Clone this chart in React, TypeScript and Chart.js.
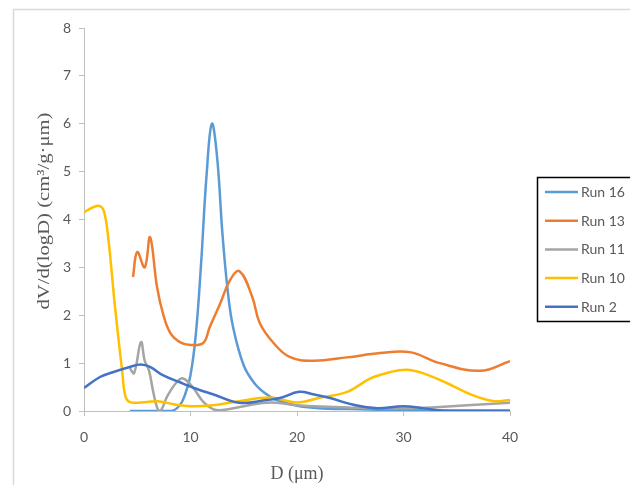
import React, { useEffect, useRef } from "react";
import { Chart, registerables } from "chart.js";

Chart.register(...registerables);

const seriesLabels = ["Run 16", "Run 13", "Run 11", "Run 10", "Run 2"];
const seriesColors = ["#5B9BD5", "#ED7D31", "#A5A5A5", "#FFC000", "#4472C4"];

const run16D = [4.3, 6, 8.2, 9, 9.5, 10, 10.5, 11, 11.5, 12, 12.5, 13, 13.5, 14, 15, 16, 17, 18, 20, 22, 25, 30, 35, 40];
const run16V = [0, 0, 0, 0.12, 0.35, 0.75, 1.6, 3.1, 4.9, 6.0, 5.3, 3.7, 2.5, 1.75, 0.95, 0.58, 0.37, 0.24, 0.11, 0.06, 0.04, 0.02, 0.01, 0.01];

const run13D = [4.6, 5.0, 5.7, 6.2, 6.85, 7.4, 8.1, 9.0, 10.0, 11.2, 11.8, 12.8, 13.7, 14.6, 15.8, 16.5, 17.8, 19.3, 21.5, 24.7, 27.8, 30.6, 33.4, 37.2, 40];
const run13V = [2.8, 3.32, 3.0, 3.63, 2.6, 2.05, 1.63, 1.44, 1.38, 1.42, 1.75, 2.25, 2.73, 2.92, 2.38, 1.84, 1.42, 1.13, 1.05, 1.12, 1.21, 1.23, 1.0, 0.84, 1.04];

const run11D = [4.3, 4.7, 5.35, 5.7, 6.1, 6.5, 6.9, 7.2, 7.8, 8.7, 9.3, 10.2, 11.2, 12.1, 13, 15, 17.5, 20, 25, 30, 33, 36, 40];
const run11V = [0.9, 0.79, 1.44, 1.05, 0.85, 0.4, 0.05, 0.0, 0.3, 0.6, 0.68, 0.5, 0.19, 0.04, 0.02, 0.1, 0.18, 0.12, 0.07, 0.05, 0.08, 0.12, 0.17];

const run10D = [0, 0.8, 1.5, 1.9, 2.3, 2.9, 3.6, 3.9, 4.4, 5.9, 7.1, 8.4, 10, 12.1, 14.4, 17.5, 20, 22.2, 24.7, 26.9, 28.7, 30.3, 31.8, 34.1, 36.5, 38.4, 40];
const run10V = [4.15, 4.25, 4.28, 4.15, 3.57, 2.2, 0.8, 0.3, 0.18, 0.19, 0.2, 0.14, 0.1, 0.12, 0.2, 0.28, 0.18, 0.28, 0.4, 0.68, 0.81, 0.86, 0.79, 0.58, 0.33, 0.21, 0.23];

const run2D = [0, 1.5, 2.7, 4.3, 5.3, 6.2, 7.4, 9, 10.6, 12.1, 14.6, 17.2, 18.4, 20.2, 21.5, 23.1, 25.3, 27.5, 30, 31.8, 34, 37, 40];
const run2V = [0.48, 0.71, 0.81, 0.92, 0.97, 0.92, 0.75, 0.6, 0.46, 0.35, 0.17, 0.23, 0.27, 0.4, 0.35, 0.27, 0.13, 0.06, 0.1, 0.06, 0.0, 0, 0];

const seriesD = [run16D, run13D, run11D, run10D, run2D];
const seriesV = [run16V, run13V, run11V, run10V, run2V];

const xTitle = "D (μm)";
const yTitle = "dV/d(logD) (cm³/g·μm)";

const framePlugin = {
  id: "frame",
  beforeDraw(chart: any) {
    const ctx = chart.ctx;
    ctx.save();
    ctx.fillStyle = "#ffffff";
    ctx.fillRect(0, 0, chart.width, chart.height);
    ctx.strokeStyle = "#D9D9D9";
    ctx.lineWidth = 1.5;
    ctx.strokeRect(13.5, 9.5, chart.width + 20, chart.height + 20);
    ctx.restore();
  },
};

const yTitlePlugin = {
  id: "yTitleDraw",
  afterDraw(chart: any) {
    const ctx = chart.ctx;
    ctx.save();
    ctx.font = "17px 'Liberation Serif'";
    ctx.fillStyle = "#595959";
    ctx.textAlign = "center";
    ctx.textBaseline = "middle";
    const w = ctx.measureText(yTitle).width;
    const target = 197;
    ctx.translate(45, 211);
    ctx.rotate(-Math.PI / 2);
    ctx.scale(target / w, 1);
    ctx.fillText(yTitle, 0, 0);
    ctx.restore();
  },
};

const legendPlugin = {
  id: "boxLegend",
  afterDraw(chart: any) {
    const ctx = chart.ctx;
    const ds = chart.data.datasets;
    ctx.save();
    ctx.strokeStyle = "#000000";
    ctx.lineWidth = 1.5;
    ctx.strokeRect(537.5, 177.5, 120, 144);
    ctx.font = "14px Lato";
    ctx.textBaseline = "middle";
    ctx.textAlign = "left";
    ds.forEach((d: any, i: number) => {
      const y = 192 + i * 28.7;
      ctx.strokeStyle = d.borderColor;
      ctx.lineWidth = 2.5;
      ctx.beginPath();
      ctx.moveTo(545, y);
      ctx.lineTo(578, y);
      ctx.stroke();
      ctx.fillStyle = "#595959";
      ctx.fillText(d.label, 581, y + 0.5);
    });
    ctx.restore();
  },
};

export default function App() {
  const ref = useRef<HTMLCanvasElement>(null);
  useEffect(() => {
    if (!ref.current) return;
    const datasets = seriesLabels.map((label, i) => ({
      label,
      data: seriesD[i].map((x, j) => ({ x, y: seriesV[i][j] })),
      borderColor: seriesColors[i],
      backgroundColor: seriesColors[i],
      borderWidth: 2.5,
      pointRadius: 0,
      showLine: true,
      tension: 0.4,
      fill: false,
      order: seriesLabels.length - i,
    }));
    const chart = new Chart(ref.current, {
      type: "scatter",
      data: { datasets },
      options: {
        animation: false,
        responsive: false,
        maintainAspectRatio: false,
        layout: { padding: { top: 28, right: 120, bottom: 0, left: 0 } },
        plugins: { legend: { display: false }, tooltip: { enabled: false } },
        scales: {
          x: {
            type: "linear",
            min: 0,
            max: 40,
            ticks: { stepSize: 10, color: "#595959", font: { family: "Lato", size: 14 }, padding: 13 },
            grid: { drawOnChartArea: false, drawTicks: true, tickLength: 5, color: "#BFBFBF" },
            border: { display: true, color: "#BFBFBF", width: 1 },
            title: {
              display: true,
              text: xTitle,
              color: "#595959",
              font: { family: "Liberation Serif", size: 18 },
              padding: { top: 8, bottom: 0 },
            },
            afterFit: (s: any) => {
              s.height = 74;
            },
          },
          y: {
            type: "linear",
            min: 0,
            max: 8,
            ticks: { stepSize: 1, color: "#595959", font: { family: "Lato", size: 14 }, padding: 8 },
            grid: { drawOnChartArea: false, drawTicks: true, tickLength: 5, color: "#BFBFBF" },
            border: { display: true, color: "#BFBFBF", width: 1 },
            title: { display: false },
            afterFit: (s: any) => {
              s.width = 84;
            },
          },
        },
      },
      plugins: [framePlugin, yTitlePlugin, legendPlugin],
    });
    return () => chart.destroy();
  }, []);
  return (
    <div style={{ position: "fixed", left: 0, top: 0, width: 630, height: 485, background: "#fff" }}>
      <canvas ref={ref} width={630} height={485} style={{ display: "block", width: 630, height: 485 }} />
    </div>
  );
}
